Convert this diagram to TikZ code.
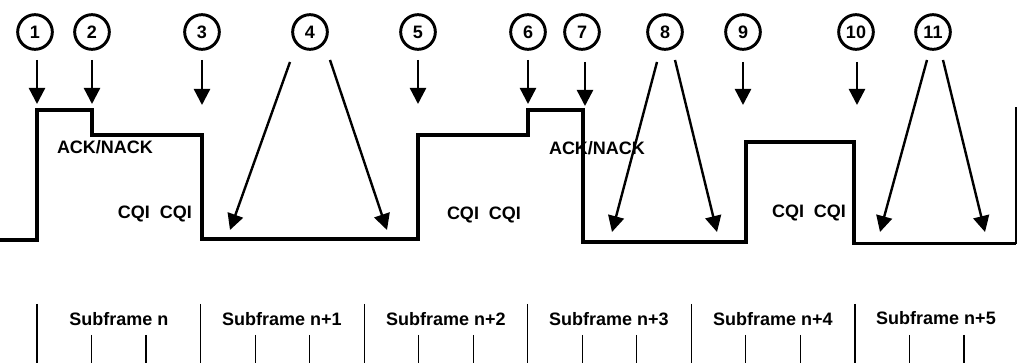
\documentclass[tikz,border=0pt]{standalone}
\usepackage{fontspec}
\setmainfont{Liberation Sans}
\usetikzlibrary{arrows.meta}
\begin{document}
\begin{tikzpicture}[x=0.75pt,y=-0.75pt,
  num/.style={circle,draw,line width=2.2pt,minimum size=26pt,inner sep=0pt,font=\fontsize{13.5}{16}\selectfont\bfseries},
  lbl/.style={inner sep=0pt,font=\fontsize{13.5}{16}\selectfont\bfseries},
  arr/.style={line width=1.8pt,-{Triangle[width=12pt,length=12pt]}},
  wave/.style={line width=2.6pt,line join=miter,line cap=butt},
  tick/.style={line width=0.8pt}]
\useasboundingbox (0,0) rectangle (1018,363);
% labels (under the waveform)
\node[lbl] (ack1) at (105,147) {ACK/NACK};
\node[lbl] (ack2) at (597,148) {ACK/NACK};
\node[lbl] (cqi1) at (155,214) {CQI~~CQI};
\node[lbl] (cqi2) at (484,215) {CQI~~CQI};
\node[lbl] (cqi3) at (809,213) {CQI~~CQI};
% waveform
\draw[wave] (0,240) -- (37,240) -- (37,110) -- (92,110) -- (92,135) -- (202,135)
  -- (202,239) -- (418,239) -- (418,135) -- (528,135) -- (528,110) -- (583,110)
  -- (583,242) -- (746,242) -- (746,142) -- (854,142) -- (854,243.5) -- (1016,243.5);
\draw[line width=1.6pt] (1016,244.5) -- (1016,107);
% numbered circles
\node[num] (c1) at (35,32) {1};
\node[num] (c2) at (92,32) {2};
\node[num] (c3) at (202,32) {3};
\node[num] (c4) at (310,32) {4};
\node[num] (c5) at (418,32) {5};
\node[num] (c6) at (528,32) {6};
\node[num] (c7) at (582,32) {7};
\node[num] (c8) at (665,32) {8};
\node[num] (c9) at (743,32) {9};
\node[num] (c10) at (856,32) {10};
\node[num] (c11) at (933,32) {11};
% arrow start / tip coordinates
\coordinate (s1) at (37,60);  \coordinate (t1) at (37,104);
\coordinate (s2) at (92,60);  \coordinate (t2) at (92,104);
\coordinate (s3) at (202,60); \coordinate (t3) at (202,105);
\coordinate (s5) at (418,60); \coordinate (t5) at (418,104);
\coordinate (s6) at (528,60); \coordinate (t6) at (528,104);
\coordinate (s7) at (585,62); \coordinate (t7) at (585,106);
\coordinate (s9) at (743,62); \coordinate (t9) at (743,105);
\coordinate (s10) at (857,62); \coordinate (t10) at (857,105);
\coordinate (s4a) at (290,62); \coordinate (t4a) at (230,230);
\coordinate (s4b) at (330,60); \coordinate (t4b) at (387,230);
\coordinate (s8a) at (657,62); \coordinate (t8a) at (612,232);
\coordinate (s8b) at (675,60); \coordinate (t8b) at (717,232);
\coordinate (s11a) at (927,60); \coordinate (t11a) at (880,232);
\coordinate (s11b) at (943,60); \coordinate (t11b) at (985,232);
\foreach \a in {1,2,3,5,6,7,9,10,4a,4b,8a,8b,11a,11b}
  \draw[arr] (s\a) -- (t\a);
% subframe ticks
\foreach \i/\x in {0/37,1/200.6,2/364.2,3/527.8,4/691.4,5/855}{
  \coordinate (L\i) at (\x,304);
  \coordinate (B\i) at (\x,363);
  \draw[tick] (L\i) -- (B\i);
  \coordinate (S\i a) at (\x+54.5,335);
  \coordinate (E\i a) at (\x+54.5,363);
  \draw[tick] (S\i a) -- (E\i a);
  \coordinate (S\i b) at (\x+109,335);
  \coordinate (E\i b) at (\x+109,363);
  \draw[tick] (S\i b) -- (E\i b);
}
\node[lbl] (sf0) at (119,319) {Subframe n};
\node[lbl] (sf1) at (282,319) {Subframe n+1};
\node[lbl] (sf2) at (446,319) {Subframe n+2};
\node[lbl] (sf3) at (609,319) {Subframe n+3};
\node[lbl] (sf4) at (773,319) {Subframe n+4};
\node[lbl] (sf5) at (936,318) {Subframe n+5};
\end{tikzpicture}
\end{document}
